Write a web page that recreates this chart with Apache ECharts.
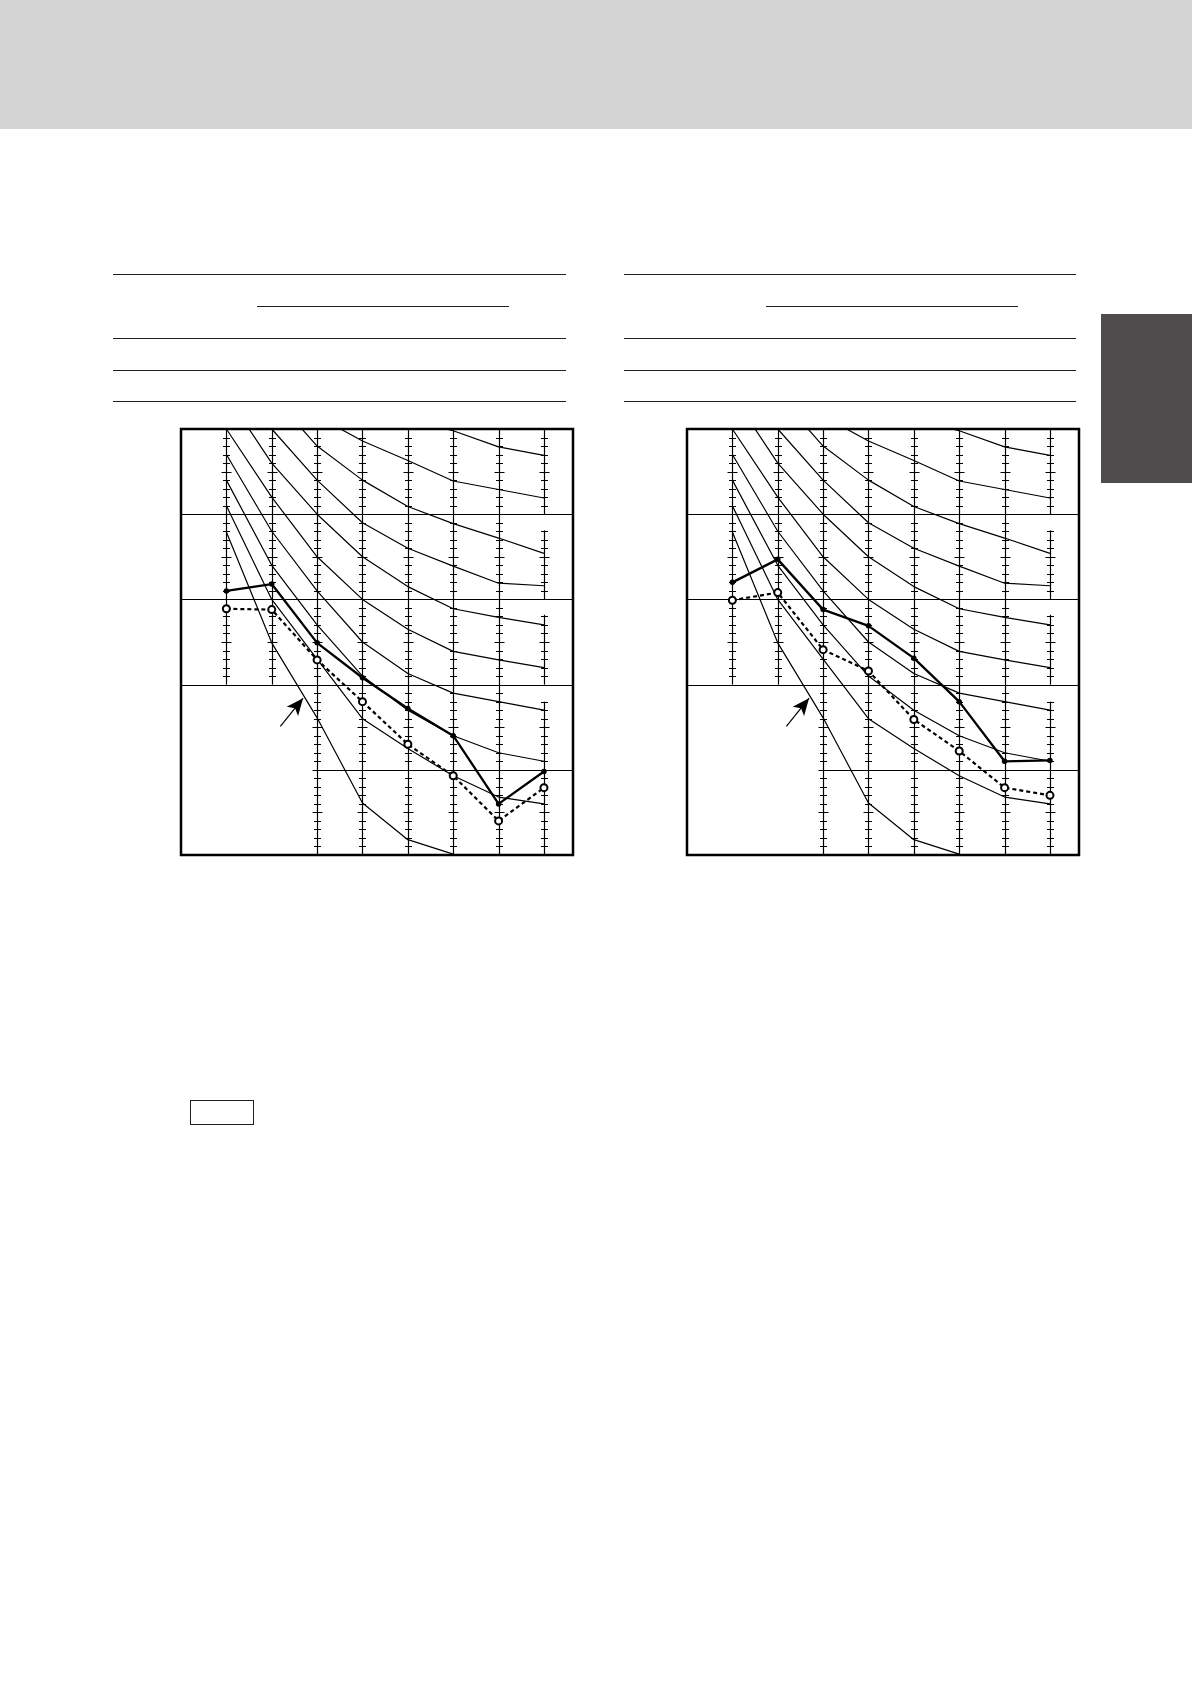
<!DOCTYPE html>
<html>
<head>
<meta charset="utf-8">
<style>
  html, body { margin: 0; padding: 0; background: #fff; }
  #page { position: relative; width: 1192px; height: 1684px; overflow: hidden; }
  #container { position: absolute; left: 0; top: 0; width: 1192px; height: 1684px; }
  .band { position: absolute; left: 0; top: 0; width: 1192px; height: 129px; background: #d4d4d4; }
  .tab { position: absolute; left: 1101px; top: 314px; width: 91px; height: 169px; background: #4e4c4d; }
  .rule { position: absolute; height: 0; border-top: 1px solid #1e1e1e; }
  .box { position: absolute; left: 190px; top: 1100px; width: 62px; height: 23px; border: 1.5px solid #1e1e1e; }
</style>
<script src="https://cdn.jsdelivr.net/npm/echarts@6/dist/echarts.min.js"></script>
</head>
<body>
<div id="page">
  <div class="band"></div>
  <div class="tab"></div>

  <div class="rule" style="left:113px; top:274px; width:453px;"></div>
  <div class="rule" style="left:257px; top:306px; width:252px;"></div>
  <div class="rule" style="left:113px; top:338px; width:453px;"></div>
  <div class="rule" style="left:113px; top:370px; width:453px;"></div>
  <div class="rule" style="left:113px; top:401px; width:453px;"></div>

  <div class="rule" style="left:624px; top:274px; width:452px;"></div>
  <div class="rule" style="left:766px; top:306px; width:252px;"></div>
  <div class="rule" style="left:624px; top:338px; width:452px;"></div>
  <div class="rule" style="left:624px; top:370px; width:452px;"></div>
  <div class="rule" style="left:624px; top:401px; width:452px;"></div>

  <div class="box"></div>
  <div id="container"></div>
</div>
<script>
var dom = document.getElementById("container");
var myChart = echarts.init(dom, null, { renderer: 'canvas' });

// octave bands, Hz
var bands = ['63', '125', '250', '500', '1k', '2k', '4k', '8k'];

// reference curves, dB per band
var nc60 = [77, 71, 67, 63, 61, 59.8, 57.9, 56.9];
var nc55 = [74, 67, 61.5, 58.6, 56.3, 53.9, 52.9, 51.9];
var nc50 = [71, 64, 58, 54, 50.9, 48.9, 47.2, 45.4];
var nc45 = [67, 60, 54, 49, 46, 43.9, 41.9, 41.6];
var nc40 = [64, 56, 50, 45, 41.5, 38.9, 37.9, 37];
var nc35 = [60, 52, 45, 40, 36.5, 33.9, 32.9, 32];
var nc30 = [57, 48, 41, 35, 31.3, 29, 28, 27];
var nc25 = [54, 44, 37, 31, 27, 24, 22, 21];
var nc20 = [51, 40, 33, 26, 22.5, 19.3, 16.8, 16];
var curveA = [47.9, 34.9, 26.1, 16.1, 11.8, 10.1];

// measured spectra
var leftSolid = [41.0, 41.8, 34.9, 30.8, 27.2, 24.0, 16.0, 19.8];
var leftDashed = [38.9, 38.8, 32.9, 28.0, 23.0, 19.3, 14.0, 17.9];
var rightSolid = [42.0, 44.7, 38.8, 36.9, 33.1, 28.0, 21.0, 21.1];
var rightDashed = [39.9, 40.8, 34.1, 31.6, 25.9, 22.2, 17.9, 17.0];

// ruled column lines: [band index, from dB, to dB]
var colSegments = [
  [0, 30, 60], [1, 30, 60],
  [2, 10, 60], [3, 10, 60], [4, 10, 60], [5, 10, 60], [6, 10, 60],
  [7, 50, 60], [7, 40, 48.1], [7, 30, 38.2], [7, 10, 28]
];
// horizontal rules: [from x, to x, dB]
var rowLines = [[-1, 7.64, 50], [-1, 7.64, 40], [-1, 7.64, 30], [2, 7.64, 20]];
// arrow pointing at the lowest curve
var arrowLine = [[1.19, 25.1], [1.69, 28.4]];

var ink = '#000';
var ncCurves = [nc60, nc55, nc50, nc45, nc40, nc35, nc30, nc25, nc20];

function snap(v) {
  return Math.round(v) + 0.5;
}

function renderColumn(params, api) {
  var x = api.value(0), lo = api.value(1), hi = api.value(2);
  var p0 = api.coord([x, lo]), p1 = api.coord([x, hi]);
  var cx = snap(p0[0]);
  var children = [{
    type: 'line',
    shape: { x1: cx, y1: p0[1], x2: cx, y2: p1[1] },
    style: { stroke: ink, lineWidth: 1.2 }
  }];
  for (var d = Math.ceil(lo); d <= Math.floor(hi); d++) {
    var p = api.coord([x, d]);
    var h = d % 5 === 0 ? 5 : 3.5;
    var y = snap(p[1]);
    children.push({
      type: 'line',
      shape: { x1: cx - h, y1: y, x2: cx + h, y2: y },
      style: { stroke: ink, lineWidth: 1 }
    });
  }
  return { type: 'group', children: children };
}

function renderRow(params, api) {
  var p0 = api.coord([api.value(0), api.value(2)]);
  var p1 = api.coord([api.value(1), api.value(2)]);
  var y = snap(p0[1]);
  return {
    type: 'line',
    shape: { x1: p0[0], y1: y, x2: p1[0], y2: y },
    style: { stroke: ink, lineWidth: 1.2 }
  };
}

function toPoints(arr) {
  return arr.map((v, i) => [i, v]);
}

function panelSeries(idx, solid, dashed) {
  var list = [];
  list.push({
    type: 'custom', xAxisIndex: idx, yAxisIndex: idx, silent: true, z: 1,
    renderItem: renderColumn, data: colSegments
  });
  list.push({
    type: 'custom', xAxisIndex: idx, yAxisIndex: idx, silent: true, z: 1,
    renderItem: renderRow, data: rowLines
  });
  ncCurves.forEach(c => list.push({
    type: 'line', xAxisIndex: idx, yAxisIndex: idx, silent: true, z: 2,
    symbol: 'none', clip: true,
    lineStyle: { color: ink, width: 1.2 },
    data: toPoints(c)
  }));
  list.push({
    type: 'line', xAxisIndex: idx, yAxisIndex: idx, silent: true, z: 2,
    symbol: 'none', clip: true,
    lineStyle: { color: ink, width: 1.2 },
    data: toPoints(curveA),
    markLine: {
      silent: true, animation: false,
      symbol: ['none', 'arrow'], symbolSize: [11, 17],
      label: { show: false },
      lineStyle: { color: ink, width: 1.2, type: 'solid' },
      data: [[{ coord: arrowLine[0] }, { coord: arrowLine[1] }]]
    }
  });
  list.push({
    type: 'line', xAxisIndex: idx, yAxisIndex: idx, z: 4,
    symbol: 'emptyCircle', symbolSize: 7,
    itemStyle: { color: ink, borderColor: ink, borderWidth: 2 },
    lineStyle: { color: ink, width: 2.2, type: [4, 3] },
    data: toPoints(dashed)
  });
  list.push({
    type: 'line', xAxisIndex: idx, yAxisIndex: idx, z: 5,
    symbol: 'circle', symbolSize: 5.5,
    itemStyle: { color: ink },
    lineStyle: { color: ink, width: 2.3 },
    data: toPoints(solid)
  });
  return list;
}

var grids = [
  { left: 181, top: 429, width: 392, height: 426 },
  { left: 687, top: 429, width: 392, height: 426 }
];

var option = {
  animation: false,
  grid: grids.map(g => Object.assign({
    show: true, borderColor: '#000', borderWidth: 2.5, backgroundColor: 'transparent'
  }, g)),
  xAxis: grids.map((g, i) => ({
    gridIndex: i, type: 'value', min: -1, max: 7.64, show: false
  })),
  yAxis: grids.map((g, i) => ({
    gridIndex: i, type: 'value', min: 10, max: 60, show: false
  })),
  series: panelSeries(0, leftSolid, leftDashed).concat(panelSeries(1, rightSolid, rightDashed))
};

if (option && typeof option === 'object') {
  myChart.setOption(option);
}
</script>
</body>
</html>
